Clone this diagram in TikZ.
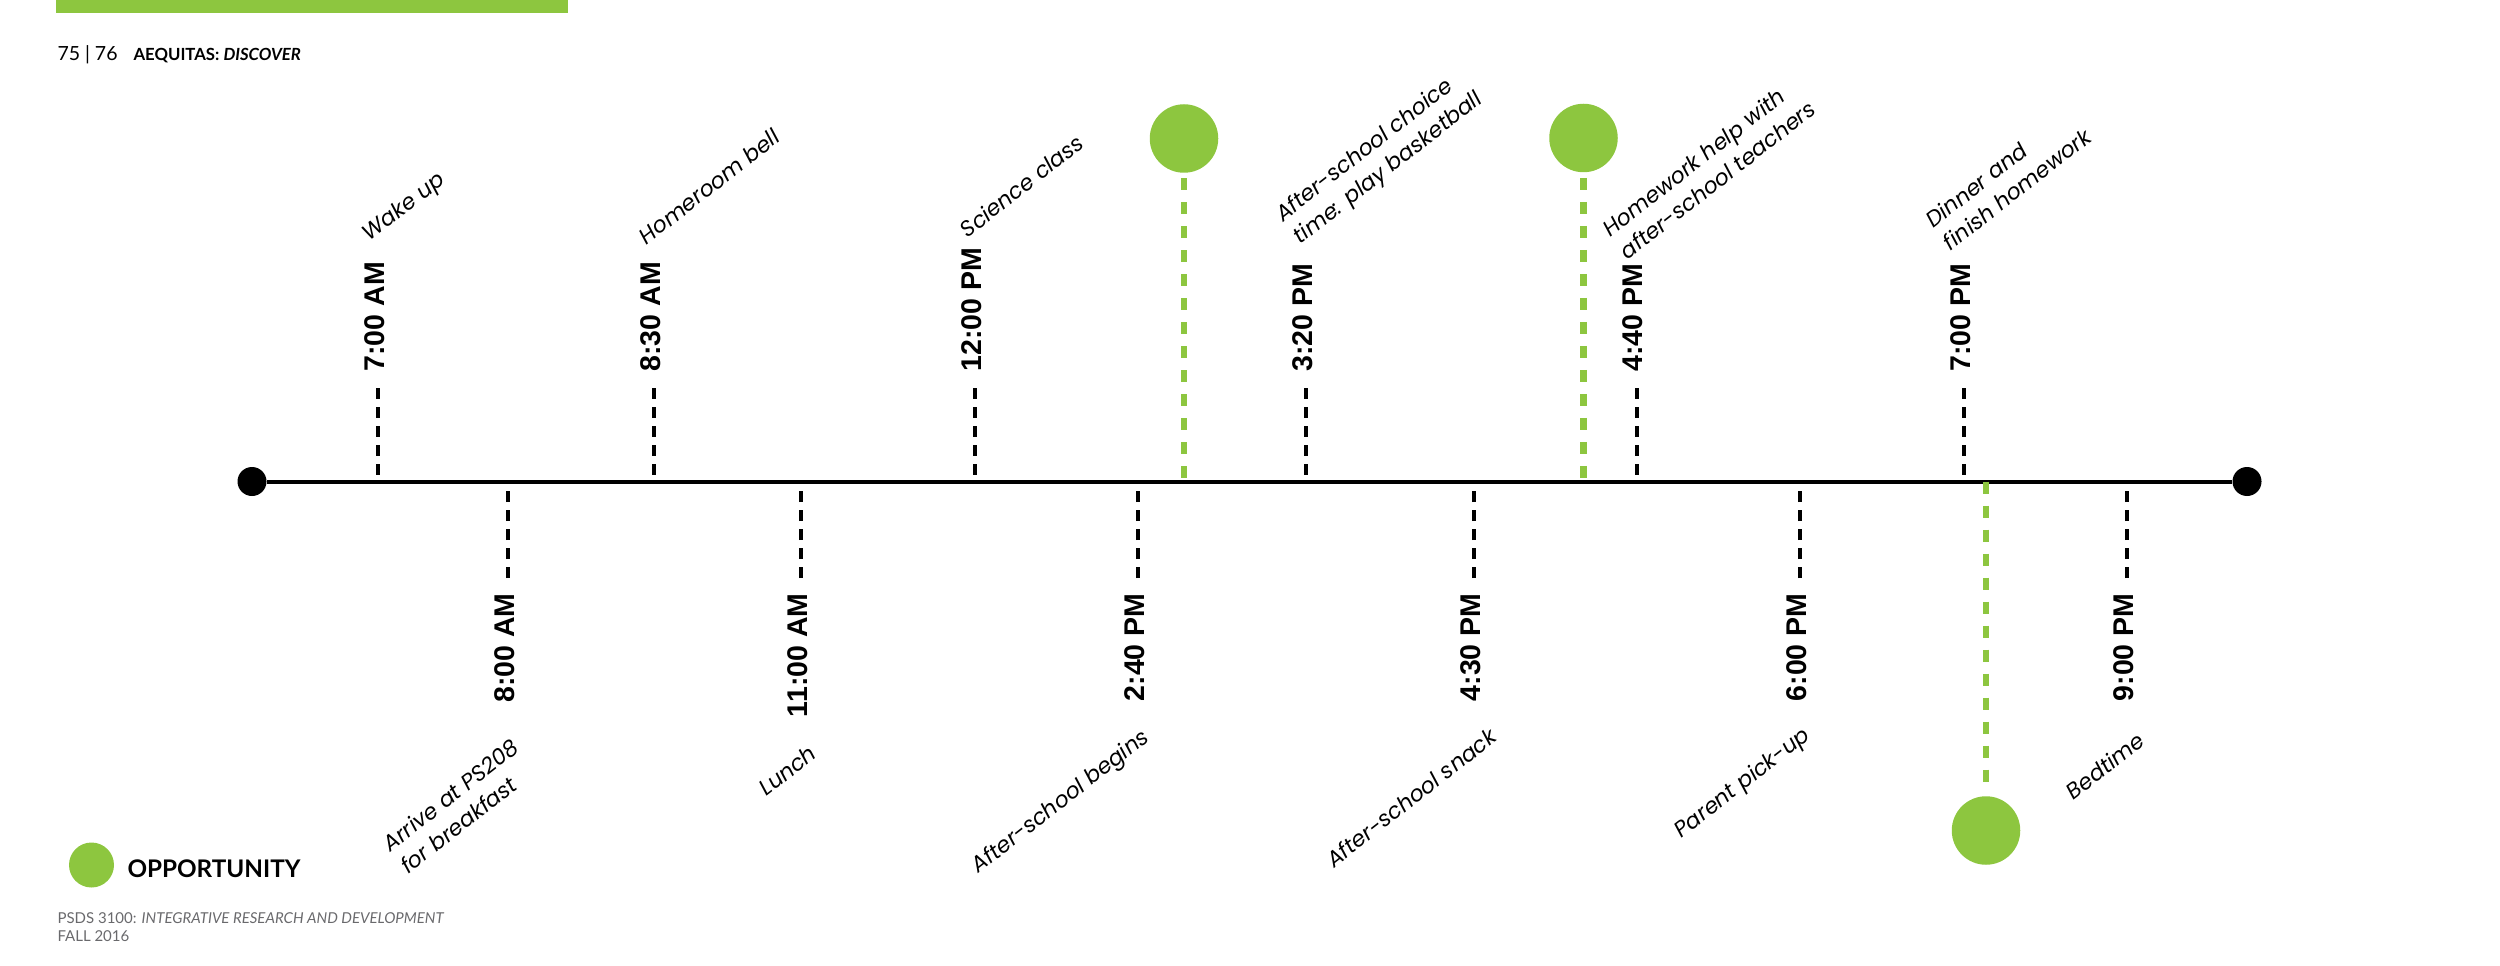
\documentclass[tikz,border=0pt]{standalone}
\usepackage{fontspec}
\setmainfont{Lato}
\newfontfamily\timefont{Liberation Sans}
\newfontfamily\evfont{Poppins}
\definecolor{oppgreen}{RGB}{141,198,63}
\definecolor{footgray}{RGB}{105,105,108}
\begin{document}
\begin{tikzpicture}[x=0.4pt, y=-0.4pt,
  mainline/.style={line width=1.6pt, black},
  tickline/.style={line width=1.6pt, black, dash pattern=on 4.4pt off 3.2pt},
  oppline/.style={line width=2.6pt, oppgreen, dash pattern=on 4.8pt off 4.8pt},
  endpt/.style={circle, fill=black, inner sep=0pt, minimum size=11.6pt},
  oppdot/.style={circle, fill=oppgreen, inner sep=0pt, minimum size=27.4pt},
  timelab/.style={font=\timefont\bfseries\fontsize{11.4}{13}\selectfont, rotate=90, inner sep=0pt},
  evlab/.style={font=\evfont\itshape\fontsize{8.8}{11.4}\selectfont, rotate=38, inner sep=0pt, align=left},
  uplab/.style={evlab, anchor=south west},
  downlab/.style={evlab, anchor=north east},
  plain/.style={inner sep=0pt, anchor=base west}
]
\useasboundingbox (0,0) rectangle (2500,966);

% header
\fill[oppgreen] (56,0) rectangle (568,13);
\node[plain, font=\fontsize{7.8}{9}\selectfont] (pages) at (57,61) {75 | 76};
\node[plain, font=\bfseries\fontsize{6.7}{8}\selectfont] (title) at (133,61) {AEQUITAS: \textit{DISCOVER}};

% main line
\node[endpt] (L) at (252,481.5) {};
\node[endpt] (R) at (2247,481.5) {};
\draw[mainline] (L) -- (R);

% upper ticks
\coordinate (ua1) at (378,481.5);  \coordinate (ub1) at (378,388);
\coordinate (ua2) at (654,481.5);  \coordinate (ub2) at (654,388);
\coordinate (ua3) at (975,481.5);  \coordinate (ub3) at (975,388);
\coordinate (ua4) at (1306,481.5); \coordinate (ub4) at (1306,388);
\coordinate (ua5) at (1637,481.5); \coordinate (ub5) at (1637,388);
\coordinate (ua6) at (1964,481.5); \coordinate (ub6) at (1964,388);
\foreach \i in {1,...,6} {\draw[tickline] (ub\i) -- (ua\i);}

\node[timelab, anchor=west] (ut1) at (375,372) {7:00 AM};
\node[timelab, anchor=west] (ut2) at (651,372) {8:30 AM};
\node[timelab, anchor=west] (ut3) at (972,372) {12:00 PM};
\node[timelab, anchor=west] (ut4) at (1303,372) {3:20 PM};
\node[timelab, anchor=west] (ut5) at (1633,372) {4:40 PM};
\node[timelab, anchor=west] (ut6) at (1961,372) {7:00 PM};

\node[uplab] (ue1) at (373,247) {Wake up};
\node[uplab] (ue2) at (647,246) {Homeroom bell};
\node[uplab] (ue3) at (968,239) {Science class};
\node[uplab] (ue4) at (1304,250) {After-school choice\\time: play basketball};
\node[uplab] (ue5) at (1628,261) {Homework help with\\after-school teachers};
\node[uplab] (ue6) at (1951,252) {Dinner and\\finish homework};

% lower ticks
\coordinate (la1) at (508,481.5);  \coordinate (lb1) at (508,578);
\coordinate (la2) at (801,481.5);  \coordinate (lb2) at (801,578);
\coordinate (la3) at (1137.5,481.5); \coordinate (lb3) at (1137.5,578);
\coordinate (la4) at (1474,481.5); \coordinate (lb4) at (1474,578);
\coordinate (la5) at (1800,481.5); \coordinate (lb5) at (1800,578);
\coordinate (la6) at (2127,481.5); \coordinate (lb6) at (2127,578);
\foreach \i in {1,...,6} {\draw[tickline] (lb\i) -- (la\i);}

\node[timelab, anchor=east] (lt1) at (505,593) {8:00 AM};
\node[timelab, anchor=east] (lt2) at (798,593) {11:00 AM};
\node[timelab, anchor=east] (lt3) at (1134.5,593) {2:40 PM};
\node[timelab, anchor=east] (lt4) at (1471,593) {4:30 PM};
\node[timelab, anchor=east] (lt5) at (1797,593) {6:00 PM};
\node[timelab, anchor=east] (lt6) at (2124,593) {9:00 PM};

\node[downlab] (le1) at (510,737) {Arrive at PS208\\for breakfast};
\node[downlab] (le2) at (808,743) {Lunch};
\node[downlab] (le3) at (1140,726) {After-school begins};
\node[downlab] (le4) at (1488,726) {After-school snack};
\node[downlab] (le5) at (1801,724) {Parent pick-up};
\node[downlab] (le6) at (2136,730) {Bedtime};

% opportunities
\node[oppdot] (g1) at (1184,138.5) {};
\node[oppdot] (g2) at (1583.5,138) {};
\node[oppdot] (g3) at (1986,830.5) {};
\coordinate (gl1) at (1184,481.5);
\coordinate (gl2) at (1583.5,481.5);
\coordinate (gl3) at (1986,481.5);
\draw[oppline, shorten <=2pt] (g1) -- (gl1);
\draw[oppline, shorten <=2pt] (g2) -- (gl2);
\draw[oppline, shorten >=3.4pt] (gl3) -- (g3);

% legend
\node[oppdot, minimum size=18pt] (leg) at (91.5,865) {};
\node[plain, font=\bfseries\fontsize{9.7}{11}\selectfont] (legtext) at (127,877) {OPPORTUNITY};

% footer
\node[plain, text=footgray, font=\fontsize{6}{7}\selectfont] (foot1) at (57,923) {PSDS 3100: \textit{INTEGRATIVE RESEARCH AND DEVELOPMENT}};
\node[plain, text=footgray, font=\fontsize{6}{7}\selectfont] (foot2) at (57,941) {FALL 2016};
\end{tikzpicture}
\end{document}
